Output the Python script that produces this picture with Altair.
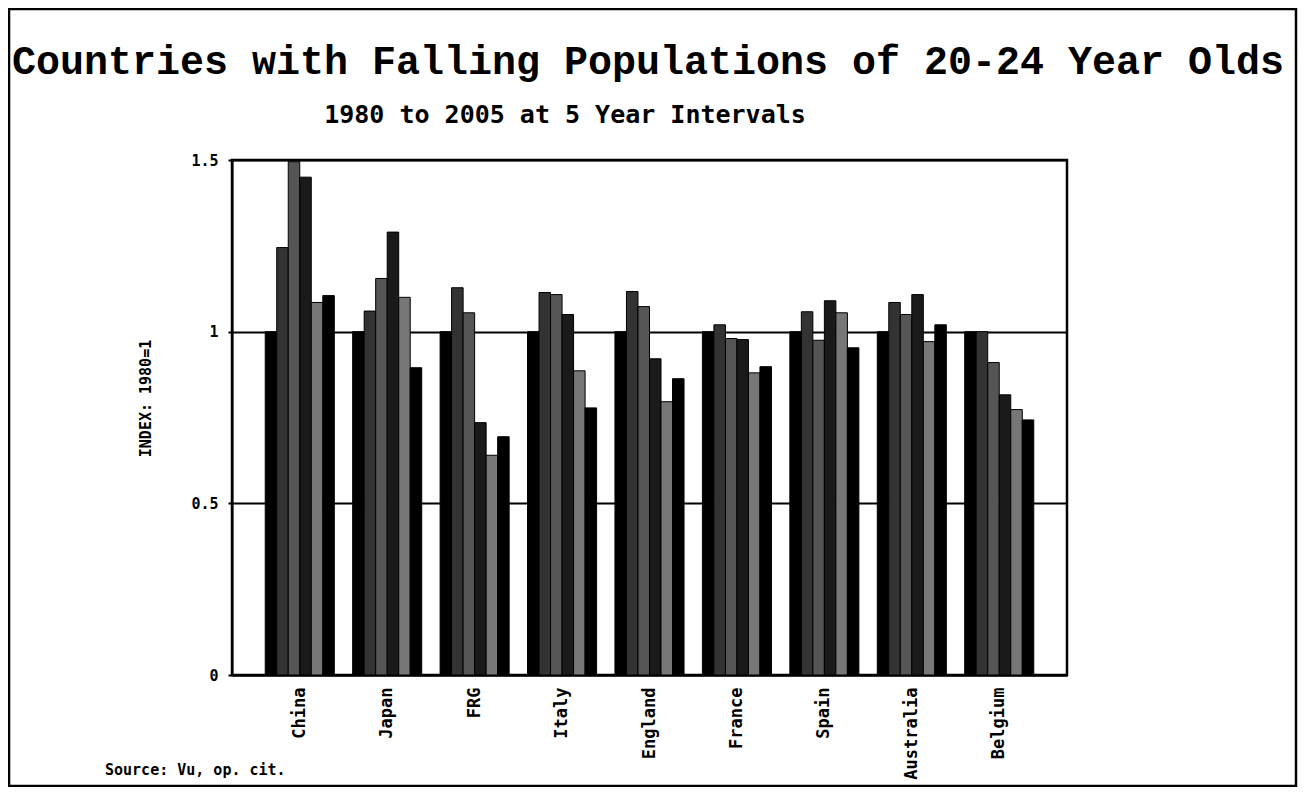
import altair as alt
import pandas as pd

countries = ["China", "Japan", "FRG", "Italy", "England", "France", "Spain", "Australia", "Belgium"]
years = ["1980", "1985", "1990", "1995", "2000", "2005"]

china = [1.00, 1.245, 1.495, 1.45, 1.085, 1.105]
japan = [1.00, 1.06, 1.155, 1.29, 1.10, 0.895]
frg = [1.00, 1.128, 1.055, 0.735, 0.64, 0.694]
italy = [1.00, 1.114, 1.108, 1.05, 0.886, 0.778]
england = [1.00, 1.117, 1.073, 0.921, 0.796, 0.863]
france = [1.00, 1.02, 0.98, 0.977, 0.88, 0.898]
spain = [1.00, 1.058, 0.975, 1.09, 1.055, 0.953]
australia = [1.00, 1.085, 1.05, 1.108, 0.971, 1.02]
belgium = [1.00, 1.00, 0.91, 0.816, 0.773, 0.743]

series = [china, japan, frg, italy, england, france, spain, australia, belgium]

title_text = "Countries with Falling Populations of 20-24 Year Olds"
subtitle_text = "1980 to 2005 at 5 Year Intervals"
source_text = "Source: Vu, op. cit."
y_title = "INDEX: 1980=1"

rows = []
for c, vals in zip(countries, series):
    for yr, v in zip(years, vals):
        rows.append({"country": c, "year": yr, "value": v})
df = pd.DataFrame(rows)

greys = ["#000000", "#333333", "#555555", "#1a1a1a", "#777777", "#000000"]
MONO = "DejaVu Sans Mono"

bars = alt.Chart(df).mark_bar(stroke="black", strokeWidth=1).encode(
    x=alt.X("country:N", sort=countries,
            scale=alt.Scale(paddingInner=0.21, paddingOuter=0.38),
            axis=alt.Axis(title=None, labelAngle=-90, labelAlign="right", labelBaseline="middle",
                          labelFont=MONO, labelFontWeight="bold", labelFontSize=17,
                          labelColor="black", labelPadding=12, ticks=False,
                          domainColor="black", domainWidth=2)),
    xOffset=alt.XOffset("year:N", sort=years, scale=alt.Scale(paddingInner=0, paddingOuter=0)),
    y=alt.Y("value:Q", scale=alt.Scale(domain=[0, 1.5], nice=False),
            axis=alt.Axis(title=y_title, values=[0, 0.5, 1, 1.5], format=".1~f",
                          grid=True, gridColor="black", gridWidth=2, gridOpacity=1,
                          domainColor="black", domainWidth=2,
                          tickColor="black", tickSize=4, tickWidth=2,
                          labelFont=MONO, labelFontWeight="bold", labelFontSize=15,
                          labelColor="black", labelPadding=10,
                          titleFont=MONO, titleFontWeight="bold", titleFontSize=15,
                          titleColor="black", titleAngle=270, titleX=-87, titleY=238,
                          titleAlign="center", titleBaseline="middle")),
    color=alt.Color("year:N", sort=years, scale=alt.Scale(domain=years, range=greys), legend=None),
)

title = alt.Chart(pd.DataFrame({"t": [title_text]})).mark_text(
    font="Liberation Mono", fontWeight="bold", fontSize=40, align="center", baseline="middle",
    color="black"
).encode(text="t:N", x=alt.value(416), y=alt.value(-98))

subtitle = alt.Chart(pd.DataFrame({"t": [subtitle_text]})).mark_text(
    font=MONO, fontWeight="bold", fontSize=25, align="center", baseline="middle", color="black"
).encode(text="t:N", x=alt.value(333), y=alt.value(-45))

source = alt.Chart(pd.DataFrame({"t": [source_text]})).mark_text(
    font=MONO, fontWeight="bold", fontSize=15, align="left", baseline="middle", color="black"
).encode(text="t:N", x=alt.value(-127), y=alt.value(610))

frame = alt.Chart(pd.DataFrame({"f": [0]})).mark_rect(
    fillOpacity=0, stroke="black", strokeWidth=2.5
).encode(x=alt.value(-223), x2=alt.value(1064), y=alt.value(-151), y2=alt.value(626))

chart = alt.layer(bars, title, subtitle, source, frame).properties(
    width=835, height=515,
    autosize=alt.AutoSizeParams(type="none"),
    padding={"left": 224, "top": 152, "right": 231, "bottom": 112},
    background="white",
).configure_view(stroke="black", strokeWidth=2.5)

chart.save("out.html", embed_options={"renderer": "svg", "actions": False})
